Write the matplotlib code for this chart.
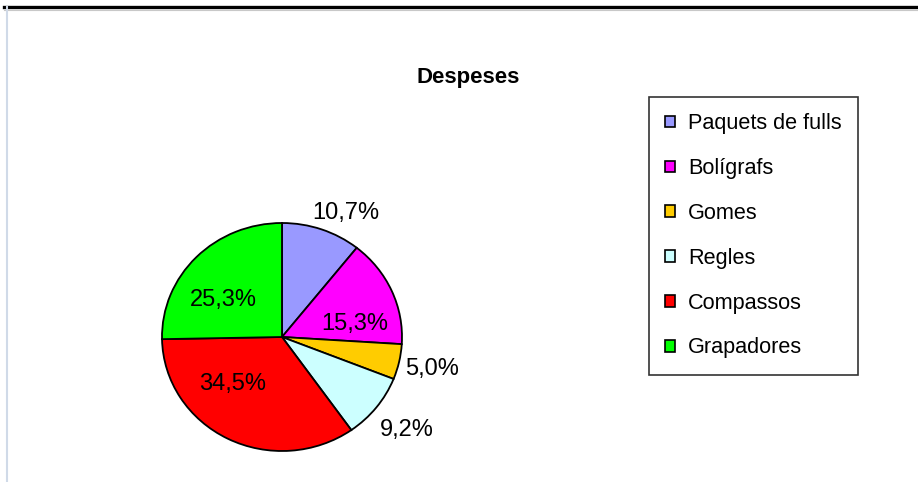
import matplotlib
matplotlib.use('Agg')
import matplotlib.pyplot as plt
from matplotlib.lines import Line2D
from matplotlib.patches import Patch
import numpy as np

plt.rcParams['font.family'] = ['Liberation Sans', 'DejaVu Sans']

# data
categories = ['Paquets de fulls', 'Bolígrafs', 'Gomes', 'Regles', 'Compassos', 'Grapadores']
values = [10.7, 15.3, 5.0, 9.2, 34.5, 25.3]
colors = ['#9999FF', '#FF00FF', '#FFCC00', '#CCFFFF', '#FF0000', '#00FF00']
label_dist = [1.21, 0.62, 1.28, 1.32, 0.58, 0.59]  # radial position of each % label
label_turn = [-7, -13, 0, 0, -18, 11]              # angle tweak (deg) of each % label

W, H = 918, 482
fig = plt.figure(figsize=(W / 100, H / 100), dpi=100)

# pie axes (slightly squashed, like the original)
cx, cy, rx, ry = 282, 337, 120, 114
ax = fig.add_axes([(cx - rx) / W, (H - cy - ry) / H, 2 * rx / W, 2 * ry / H])
wedges, _ = ax.pie(values, colors=colors, startangle=90, counterclock=False,
                   wedgeprops=dict(edgecolor='black', linewidth=1.3))
ax.set_aspect('auto')
ax.set_xlim(-1, 1)
ax.set_ylim(-1, 1)
ax.axis('off')

for w, v, d, t in zip(wedges, values, label_dist, label_turn):
    ang = np.deg2rad((w.theta1 + w.theta2) / 2 + t)
    txt = ('%.1f%%' % v).replace('.', ',')
    ax.text(d * np.cos(ang), d * np.sin(ang), txt, ha='center', va='center',
            fontsize=17, clip_on=False)

fig.text(468 / W, 1 - 78 / H, 'Despeses', ha='center', va='center',
         fontsize=16, fontweight='bold')

handles = [Patch(facecolor=c, edgecolor='black', linewidth=1.2) for c in colors]
leg = fig.legend(handles, categories, loc='upper left',
                 bbox_to_anchor=(649 / W, 1 - 97 / H), fontsize=15.6,
                 handlelength=0.45, handleheight=0.45, handletextpad=0.6,
                 labelspacing=1.1, borderpad=0.75, borderaxespad=0,
                 fancybox=False, frameon=True)
leg.get_frame().set_edgecolor('black')
leg.get_frame().set_linewidth(1.2)

# chart frame lines
fig.add_artist(Line2D([4 / W, 1], [1 - 7 / H] * 2, color='black', linewidth=2.4))
fig.add_artist(Line2D([4 / W, 1], [1 - 9.5 / H] * 2, color='#c8c8c8', linewidth=0.8))
fig.add_artist(Line2D([7 / W] * 2, [0, 1 - 7 / H], color='#d0dae8', linewidth=1.5))

fig.savefig('out.png', dpi=100)
